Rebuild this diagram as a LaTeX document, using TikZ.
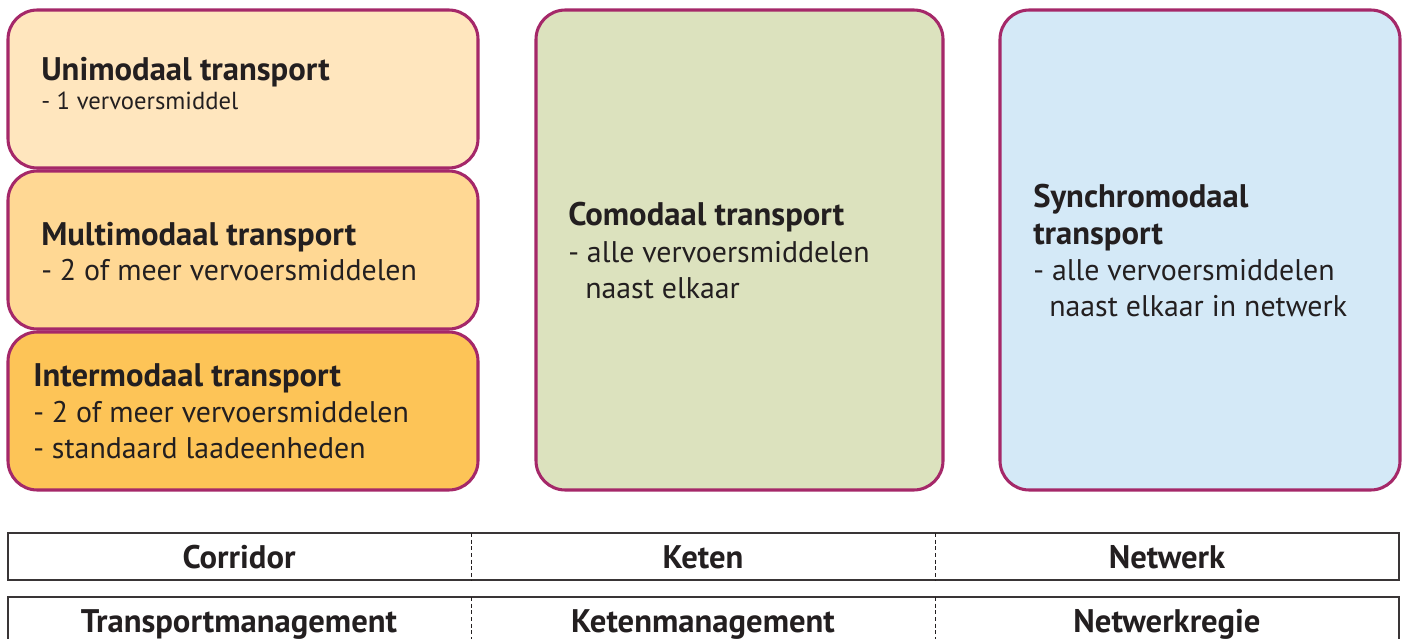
\documentclass[tikz,border=0pt]{standalone}
\usepackage{fontspec}
\setmainfont{PT Sans}
\definecolor{rim}{RGB}{165,40,105}
\definecolor{uniFill}{RGB}{255,230,190}
\definecolor{multiFill}{RGB}{255,216,148}
\definecolor{interFill}{RGB}{253,196,87}
\definecolor{comoFill}{RGB}{220,226,190}
\definecolor{syncFill}{RGB}{212,233,247}
\definecolor{ink}{RGB}{35,31,32}
\begin{document}
\begin{tikzpicture}[x=0.75pt, y=-0.75pt,
   modebox/.style={draw=rim, line width=2.3pt, rounded corners=22pt},
   head/.style={anchor=base west, inner sep=0pt, text=ink, font=\bfseries\fontsize{24.5}{28}\selectfont},
   body/.style={anchor=base west, inner sep=0pt, text=ink, font=\fontsize{22.4}{26}\selectfont},
   smallbody/.style={body, font=\fontsize{18.5}{22}\selectfont},
   cell/.style={anchor=base, inner sep=0pt, text=ink, font=\bfseries\fontsize{24.5}{28}\selectfont},
   row/.style={draw=ink!90, line width=1.1pt},
   split/.style={draw=ink, line width=0.6pt, dash pattern=on 3pt off 2pt}]

\useasboundingbox (0,0) rectangle (1403,639);

% the three modes on the left
\draw[modebox, fill=uniFill]   (8,10)  rectangle (478,168);
\draw[modebox, fill=multiFill] (8,171) rectangle (478,329);
\draw[modebox, fill=interFill] (8,332) rectangle (478,490);
\draw[modebox, fill=comoFill]  (536,10)  rectangle (943,490);
\draw[modebox, fill=syncFill]  (1000,10) rectangle (1400,490);

\node[head] (unihead) at (41,80) {Unimodaal transport};
\node[smallbody] (unibody) at (41,109) {- 1 vervoersmiddel};

\node[head] (multihead) at (41,245) {Multimodaal transport};
\node[body] (multibody) at (41,280) {- 2 of meer vervoersmiddelen};

\node[head] (interhead) at (33,386) {Intermodaal transport};
\node[body] (interbodya) at (33,422) {- 2 of meer vervoersmiddelen};
\node[body] (interbodyb) at (33,458) {- standaard laadeenheden};

\node[head] (comohead) at (568,225) {Comodaal transport};
\node[body] (comobodya) at (568,262) {- alle vervoersmiddelen};
\node[body] (comobodyb) at (585,298) {naast elkaar};

\node[head] (synchead) at (1033,207) {Synchromodaal};
\node[head] (synchead2) at (1033,244) {transport};
\node[body] (syncbodya) at (1033,280) {- alle vervoersmiddelen};
\node[body] (syncbodyb) at (1049,316) {naast elkaar in netwerk};

% table underneath
\draw[row] (8,533) rectangle (1399,580);
\draw[row] (8,597) rectangle (1399,660);
\foreach \xs in {471,935} {
  \draw[split] (\xs,533) -- (\xs,580);
  \draw[split] (\xs,597) -- (\xs,639);
}

\node[cell] (corridor) at (239,568) {Corridor};
\node[cell] (keten)    at (703,568) {Keten};
\node[cell] (netwerk)  at (1167,568) {Netwerk};

\node[cell] (transmgmt) at (239,632) {Transportmanagement};
\node[cell] (ketenmgmt) at (703,632) {Ketenmanagement};
\node[cell] (regie)     at (1167,632) {Netwerkregie};

\end{tikzpicture}
\end{document}
